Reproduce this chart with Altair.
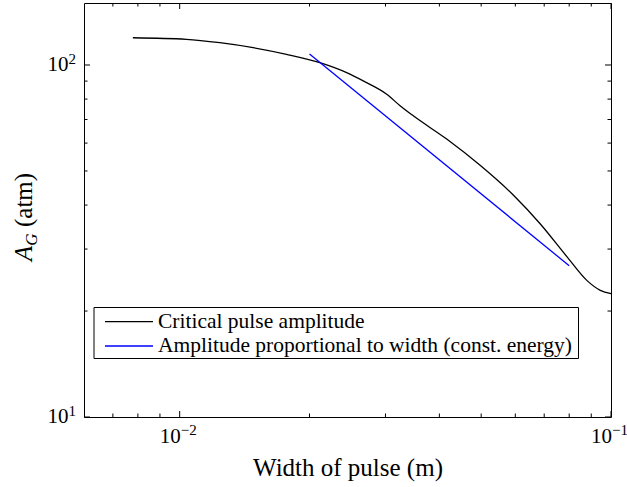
import altair as alt
import pandas as pd

# ---- data ----
crit_width = [0.00779, 0.01036, 0.01239, 0.01480, 0.01769, 0.02113, 0.02438, 0.02664,
              0.0302, 0.03243, 0.0348, 0.0416, 0.0498, 0.0595, 0.0685, 0.0791, 0.0880,
              0.09445, 0.1]
crit_amp = [119.5, 118.3, 115.7, 112.0, 107.2, 101.5, 95.1, 90.1,
            82.6, 76.6, 71.7, 61.6, 51.8, 42.6, 35.4, 28.5, 24.4,
            22.9, 22.4]
const_width = [0.02, 0.08]
const_amp = [107.5, 26.9]

series_names = ["Critical pulse amplitude",
                "Amplitude proportional to width (const. energy)"]
series_colors = ["#000000", "#0000ff"]

x_major = [0.01, 0.1]
x_minor = [0.007, 0.008, 0.009, 0.02, 0.03, 0.04, 0.05, 0.06, 0.07, 0.08, 0.09]
y_major = [10, 100]
y_minor = [20, 30, 40, 50, 60, 70, 80, 90]
x_exp_labels = ["\u22122", "\u22121"]
y_exp_labels = ["1", "2"]
tick_base = "10"
x_title = "Width of pulse (m)"
y_title_parts = ["A", "G", "(atm)"]

W, H = 527, 414
FONT = "Liberation Serif"

xs = alt.Scale(type="log", domain=[0.006, 0.1], nice=False)
ys = alt.Scale(type="log", domain=[10, 150], nice=False)
cs = alt.Scale(domain=series_names, range=series_colors)

crit_df = pd.DataFrame({"w": crit_width, "a": crit_amp, "series": series_names[0]})
const_df = pd.DataFrame({"w": const_width, "a": const_amp, "series": series_names[1]})

xaxis = alt.Axis(title=x_title, labels=False, ticks=False, domain=False, grid=False,
                 titleFont=FONT, titleFontSize=25, titleFontWeight="normal",
                 titleColor="black", titleBaseline="alphabetic", titleY=58)

line_crit = alt.Chart(crit_df).mark_line(strokeWidth=1.3, interpolate="monotone").encode(
    x=alt.X("w:Q", scale=xs, axis=xaxis),
    y=alt.Y("a:Q", scale=ys, axis=None),
    color=alt.Color("series:N", scale=cs, legend=None),
)
line_const = alt.Chart(const_df).mark_line(strokeWidth=1.3).encode(
    x=alt.X("w:Q", scale=xs),
    y=alt.Y("a:Q", scale=ys),
    color=alt.Color("series:N", scale=cs, legend=None),
)

layers = [line_crit, line_const]


def xticks(vals, length):
    df = pd.DataFrame({"w": vals})
    bot = alt.Chart(df).mark_rule(color="black", strokeWidth=1).encode(
        x=alt.X("w:Q", scale=xs), y=alt.value(H), y2=alt.value(H - length))
    top = alt.Chart(df).mark_rule(color="black", strokeWidth=1).encode(
        x=alt.X("w:Q", scale=xs), y=alt.value(0), y2=alt.value(length))
    return [bot, top]


def yticks(vals, length):
    df = pd.DataFrame({"a": vals})
    left = alt.Chart(df).mark_rule(color="black", strokeWidth=1).encode(
        y=alt.Y("a:Q", scale=ys), x=alt.value(0), x2=alt.value(length))
    right = alt.Chart(df).mark_rule(color="black", strokeWidth=1).encode(
        y=alt.Y("a:Q", scale=ys), x=alt.value(W), x2=alt.value(W - length))
    return [left, right]


layers += xticks(x_major, 6) + xticks(x_minor, 3.5)
layers += yticks(y_major, 6) + yticks(y_minor, 3.5)

# tick labels (10 with superscript exponent)
xl_df = pd.DataFrame({"w": x_major, "e": x_exp_labels, "b": tick_base})
layers.append(alt.Chart(xl_df).mark_text(align="right", baseline="alphabetic", font=FONT,
                                         fontSize=21, color="black", dx=1).encode(
    x=alt.X("w:Q", scale=xs), y=alt.value(H + 26), text="b:N"))
layers.append(alt.Chart(xl_df).mark_text(align="left", baseline="alphabetic", font=FONT,
                                         fontSize=15, color="black", dx=1).encode(
    x=alt.X("w:Q", scale=xs), y=alt.value(H + 18), text="e:N"))

yl_df = pd.DataFrame({"a": y_major, "e": y_exp_labels, "b": tick_base})
layers.append(alt.Chart(yl_df).mark_text(align="right", baseline="alphabetic", font=FONT,
                                         fontSize=21, color="black", dy=6).encode(
    y=alt.Y("a:Q", scale=ys), x=alt.value(-15.5), text="b:N"))
layers.append(alt.Chart(yl_df).mark_text(align="left", baseline="alphabetic", font=FONT,
                                         fontSize=15, color="black", dy=-1).encode(
    y=alt.Y("a:Q", scale=ys), x=alt.value(-15.5), text="e:N"))

# y title: A_G (atm), rotated
yt_x, yt_y = -52, 258
layers.append(alt.Chart(pd.DataFrame({"t": [y_title_parts[0]]})).mark_text(
    angle=270, align="left", baseline="alphabetic", font=FONT, fontSize=25,
    fontStyle="italic", color="black").encode(
    x=alt.value(yt_x), y=alt.value(yt_y), text="t:N"))
layers.append(alt.Chart(pd.DataFrame({"t": [y_title_parts[1]]})).mark_text(
    angle=270, align="left", baseline="alphabetic", font=FONT, fontSize=17,
    fontStyle="italic", color="black", dx=15.2, dy=5).encode(
    x=alt.value(yt_x), y=alt.value(yt_y), text="t:N"))
layers.append(alt.Chart(pd.DataFrame({"t": [y_title_parts[2]]})).mark_text(
    angle=270, align="left", baseline="alphabetic", font=FONT, fontSize=25,
    color="black", dx=34).encode(
    x=alt.value(yt_x), y=alt.value(yt_y), text="t:N"))

# legend box
layers.append(alt.Chart(pd.DataFrame({"k": [0]})).mark_rect(
    fill="white", stroke="black", strokeWidth=1).encode(
    x=alt.value(10), x2=alt.value(494.5), y=alt.value(304.5), y2=alt.value(355.5)))
row_y = [318.7, 343]
for i, name in enumerate(series_names):
    ldf = pd.DataFrame({"series": [name]})
    layers.append(alt.Chart(ldf).mark_rule(strokeWidth=1.3).encode(
        x=alt.value(21), x2=alt.value(69), y=alt.value(row_y[i]),
        color=alt.Color("series:N", scale=cs, legend=None)))
    layers.append(alt.Chart(ldf).mark_text(align="left", baseline="middle", font=FONT,
                                           fontSize=21.5, color="black").encode(
        x=alt.value(74), y=alt.value(row_y[i]), text="series:N"))

chart = alt.layer(*layers).properties(
    width=W, height=H,
    padding={"left": 84, "top": 3, "right": 16, "bottom": 70},
    autosize=alt.AutoSizeParams(type="none"),
    background="white",
).configure_view(stroke="black", strokeWidth=1)

chart.save("out.html", embed_options={"renderer": "svg", "actions": False})
